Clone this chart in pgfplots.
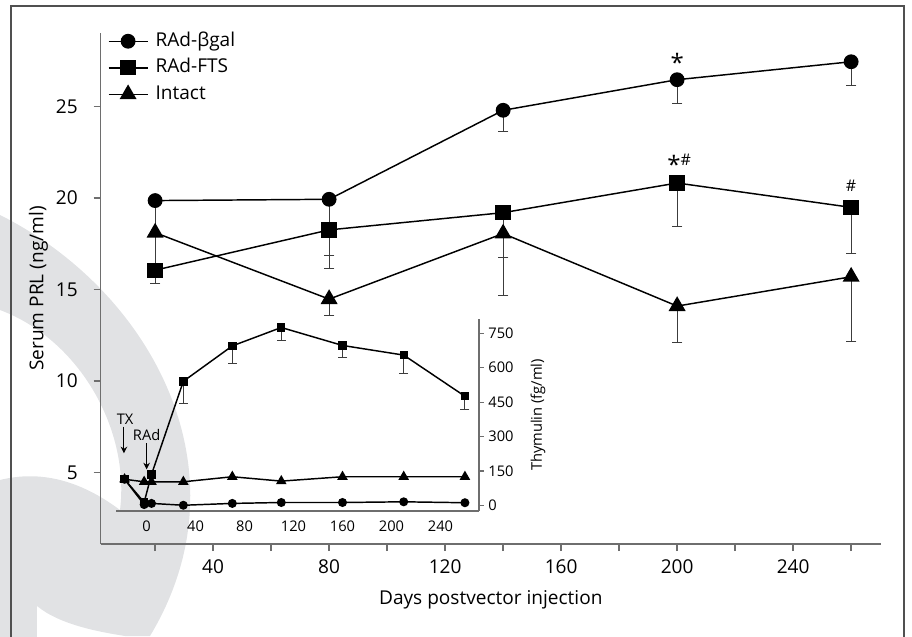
\documentclass[border=0pt]{standalone}
\usepackage{fontspec}
\setmainfont{Open Sans}
\usepackage{pgfplots}
\pgfplotsset{compat=1.18}
\usetikzlibrary{arrows.meta}

\definecolor{axisgray}{RGB}{110,110,110}
\definecolor{framegray}{RGB}{80,80,80}
\definecolor{errgray}{RGB}{60,60,60}
\definecolor{wm}{RGB}{225,226,228}

\newcommand{\mainfont}{\fontsize{14.3}{16}\selectfont}
\newcommand{\insetfont}{\fontsize{11}{13}\selectfont}

\pgfplotsset{
  errs/.style={
    /pgfplots/error bars/y dir=minus,
    /pgfplots/error bars/y explicit,
    /pgfplots/error bars/error bar style={errgray, line width=0.7pt, solid},
    /pgfplots/error bars/error mark options={errgray, line width=0.7pt, rotate=90, mark size=#1},
  },
}

\begin{document}
\begin{tikzpicture}
\useasboundingbox (-75.45pt,-69pt) rectangle (608.55pt,408pt);

% light watermark behind the chart (pixel coordinates of the reference)
\begin{scope}[x=0.75pt,y=-0.75pt,shift={(-75.45pt,408pt)}]
\fill[wm] (0,215) .. controls (150,290) and (250,470) .. (150,636)
  -- (125,636) .. controls (100,632) and (60,625) .. (37,606) -- (37,640) -- (0,640)
  -- (0,480) .. controls (40,470) and (80,480) .. (120,510)
  .. controls (130,430) and (80,340) .. (0,310) -- cycle;
\end{scope}

% main chart
\begin{axis}[
  scale only axis, width=585.3pt, height=383.25pt,
  xmin=1.2, xmax=270.3, ymin=1.1, ymax=29,
  axis x line*=bottom, axis y line*=left,
  axis line style={axisgray, line width=1.1pt, -},
  tick style={axisgray, line width=1.1pt},
  tick align=outside, major tick length=5.25pt, minor tick length=5.25pt,
  xtick={40,80,...,240}, minor xtick={20,60,...,260},
  ytick={5,10,...,25},
  tick label style={font=\mainfont},
  xticklabel style={yshift=-3pt},
  yticklabel style={xshift=-8.4pt},
  /pgf/number format/assume math mode=true,
  xlabel={Days postvector injection},
  ylabel={Serum PRL (ng/ml)},
  label style={font=\mainfont},
  xlabel style={at={(axis description cs:0.5,-0.1096)}, anchor=center},
  ylabel style={at={(axis description cs:-0.0797,0.5)}, anchor=center},
  legend style={at={(axis description cs:0.009,1.005)}, anchor=north west,
    draw=none, fill=none, inner sep=0pt, font=\mainfont, row sep=4.1pt, column sep=4.5pt,
    nodes={inner sep=1pt, text height=10.5pt, text depth=3.3pt}},
  legend cell align=left,
  legend image code/.code={\draw[mark repeat=2, mark phase=2, #1]
    plot coordinates {(0pt,0pt) (14.6pt,0pt) (29.2pt,0pt)};},
  clip=false,
]
\addplot[black, line width=1.1pt, mark=*, mark size=5pt, mark options={solid, fill=black}, errs=4pt]
coordinates {
(20,19.85) +- (0,1.8)
(80,19.92) +- (0,3.8)
(140,24.78) +- (0,1.18)
(200,26.45) +- (0,1.29)
(260,27.43) +- (0,1.29)
};
\addlegendentry{RAd-βgal}

\addplot[black, line width=1.1pt, mark=square*, mark size=5.2pt, mark options={solid, fill=black}, errs=4pt]
coordinates {
(20,16.05) +- (0,0.72)
(80,18.25) +- (0,1.38)
(140,19.19) +- (0,2.42)
(200,20.81) +- (0,2.40)
(260,19.48) +- (0,2.52)
};
\addlegendentry{RAd-FTS}

\addplot[black, line width=1.1pt, mark=triangle*, mark size=6.3pt, mark options={solid, fill=black}, errs=4pt]
coordinates {
(20,18.1) +- (0,2.45)
(80,14.47) +- (0,0.9)
(140,18.05) +- (0,3.4)
(200,14.09) +- (0,1.96)
(260,15.69) +- (0,3.52)
};
\addlegendentry{Intact}

\node[font=\fontsize{18}{18}\selectfont, yshift=-4.5pt] at (axis cs:200,27.73) {*};
\node[yshift=-3pt] at (axis cs:200.7,22.07)
  {{\fontsize{18}{18}\selectfont *}\raisebox{5.5pt}{\fontsize{12}{12}\selectfont\#}};
\node[font=\fontsize{12}{12}\selectfont] at (axis cs:260,20.64) {\#};
\end{axis}

% inset: thymulin
\begin{axis}[
  at={(11.55pt,24.75pt)}, anchor=south west,
  scale only axis, width=272.25pt, height=144pt,
  xmin=-25, xmax=271.5, ymin=-23, ymax=812,
  axis x line*=bottom, axis y line*=right,
  axis line style={axisgray, line width=1.1pt, -},
  xtick={0,40,...,240}, ytick={0,150,...,750},
  xtick style={draw=none},
  ytick style={axisgray, line width=1.1pt},
  tick align=outside, major tick length=3.5pt,
  tick label style={font=\insetfont},
  /pgf/number format/assume math mode=true,
  ylabel={Thymulin (fg/ml)},
  ylabel style={font=\insetfont, at={(axis description cs:1.1625,0.5)}, anchor=center},
  clip=false,
]
\addplot[black, line width=1.1pt, mark=square*, mark size=2.6pt, mark options={solid, fill=black}, errs=3.4pt]
coordinates {
(-18,115) +- (0,0)
(-2,15) +- (0,0)
(4,136) +- (0,0)
(30,541) +- (0,98)
(70,695) +- (0,78)
(110,775) +- (0,58)
(160,697) +- (0,51)
(210,655) +- (0,82)
(260,476) +- (0,59)
};
\addplot[black, line width=1.1pt, mark=triangle*, mark size=3.5pt, mark options={solid, fill=black}]
coordinates {
(-18,115) (-2,104) (4,104) (30,104) (70,126) (110,107) (160,126) (210,126) (260,126)
};
\addplot[black, line width=1.1pt, mark=*, mark size=2.8pt, mark options={solid, fill=black}]
coordinates {
(-18,115) (-2,5) (4,10) (30,2) (70,10) (110,14) (160,14) (210,17) (260,13)
};

\node[font=\insetfont] at (axis cs:-17.6,376) {TX};
\draw[black, line width=0.7pt, -{Stealth[length=5pt,width=5pt]}] (axis cs:-18.5,344) -- (axis cs:-18.5,228);
\node[font=\insetfont] at (axis cs:0,307) {RAd};
\draw[black, line width=0.7pt, -{Stealth[length=5pt,width=5pt]}] (axis cs:0,271) -- (axis cs:0,158);
\end{axis}

% outer frame
\begin{scope}[x=0.75pt,y=-0.75pt,shift={(-75.45pt,408pt)}]
\draw[framegray, line width=1.5pt] (11,6) rectangle (904,660);
\end{scope}
\end{tikzpicture}
\end{document}
